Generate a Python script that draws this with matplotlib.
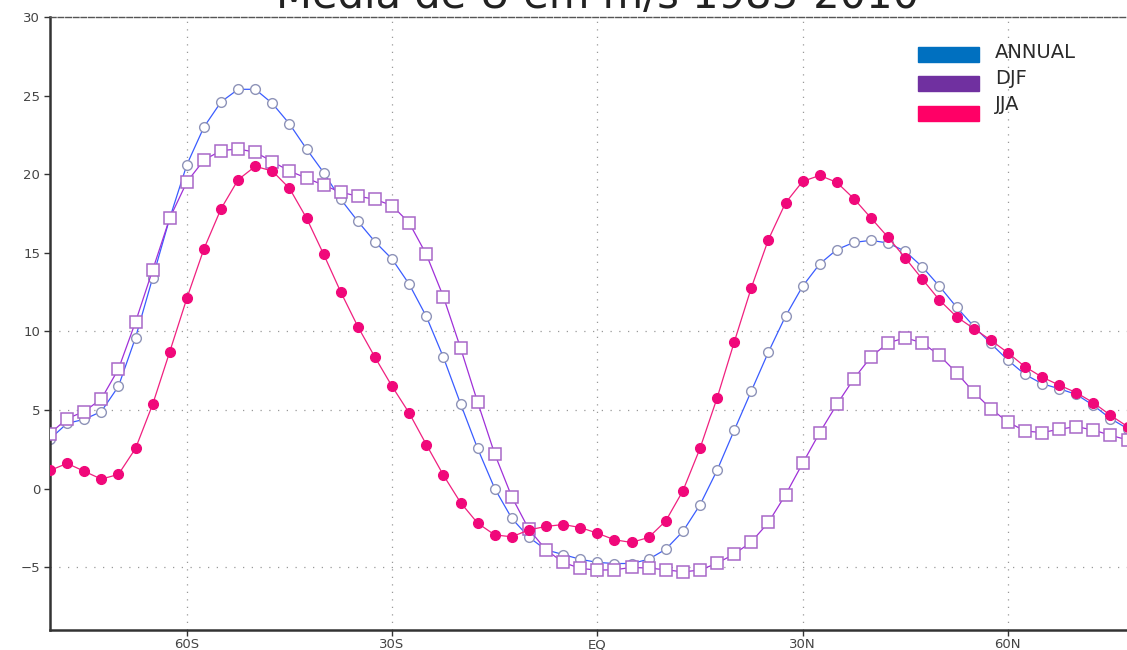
import numpy as np
import matplotlib
matplotlib.use('Agg')
import matplotlib.pyplot as plt
from matplotlib.patches import Rectangle

# latitude of each point, 80S .. 77.5N every 2.5 deg
lats = np.arange(-80, 78, 2.5)

annual = [3.15, 4.15, 4.4, 4.9, 6.5, 9.6, 13.4, 17.2, 20.6, 23.0,
          24.6, 25.4, 25.4, 24.5, 23.2, 21.6, 20.1, 18.4, 17.0, 15.7,
          14.6, 13.0, 10.95, 8.35, 5.4, 2.55, 0.0, -1.9, -3.1, -3.9,
          -4.2, -4.5, -4.7, -4.77, -4.77, -4.5, -3.86, -2.73, -1.04, 1.16,
          3.7, 6.2, 8.68, 10.96, 12.87, 14.29, 15.2, 15.66, 15.79, 15.62,
          15.09, 14.1, 12.87, 11.54, 10.33, 9.23, 8.17, 7.26, 6.67, 6.35,
          5.99, 5.29, 4.45, 3.81]

djf = [3.5, 4.45, 4.9, 5.7, 7.6, 10.6, 13.9, 17.2, 19.5, 20.9,
       21.5, 21.6, 21.4, 20.8, 20.2, 19.75, 19.3, 18.85, 18.6, 18.4,
       18.0, 16.9, 14.9, 12.2, 8.95, 5.5, 2.2, -0.53, -2.6, -3.9,
       -4.7, -5.08, -5.19, -5.17, -5.02, -5.06, -5.17, -5.3, -5.19, -4.75,
       -4.17, -3.4, -2.16, -0.4, 1.6, 3.56, 5.35, 6.99, 8.38, 9.27,
       9.59, 9.27, 8.47, 7.37, 6.14, 5.08, 4.23, 3.66, 3.56, 3.77,
       3.94, 3.72, 3.39, 3.09]

jja = [1.15, 1.6, 1.1, 0.6, 0.9, 2.55, 5.35, 8.7, 12.1, 15.25,
       17.8, 19.65, 20.5, 20.2, 19.1, 17.2, 14.9, 12.5, 10.3, 8.35,
       6.5, 4.8, 2.8, 0.85, -0.89, -2.2, -2.95, -3.07, -2.63, -2.41,
       -2.29, -2.48, -2.84, -3.26, -3.43, -3.11, -2.06, -0.15, 2.55, 5.76,
       9.31, 12.77, 15.84, 18.17, 19.54, 19.92, 19.48, 18.44, 17.21, 15.98,
       14.67, 13.32, 11.99, 10.93, 10.18, 9.44, 8.64, 7.75, 7.09, 6.58,
       6.1, 5.46, 4.66, 3.94]

xticks = [-60, -30, 0, 30, 60]
xlabels = ['60S', '30S', 'EQ', '30N', '60N']
yticks = [-5, 0, 5, 10, 15, 20, 25, 30]
ygrid = [-5, 5, 10]

legend_names = ['ANNUAL', 'DJF', 'JJA']
legend_colors = ['#0070c0', '#7030a0', '#ff0066']

W, H = 1127, 650
fig = plt.figure(figsize=(W / 100, H / 100), dpi=100)
# axes runs on past the right edge, the picture is cropped there
left, right, bottom, top = 50 / W, 1144.7 / W, 20 / H, 633 / H
ax = fig.add_axes([left, bottom, right - left, top - bottom])
ax.set_xlim(-80, 80)
ax.set_ylim(-9, 30)

for x in xticks:
    ax.axvline(x, color='#999999', linestyle=(0, (1, 5)), linewidth=0.9, zorder=0)
for y in ygrid:
    ax.axhline(y, color='#999999', linestyle=(0, (1, 6)), linewidth=0.9, zorder=0)

ax.plot(lats, annual, color='#3a5cff', linewidth=0.9, marker='o',
        markersize=7, markerfacecolor='white', markeredgecolor='#8e93b8',
        markeredgewidth=1.0, zorder=2)
ax.plot(lats, djf, color='#a030d8', linewidth=0.9, marker='s',
        markersize=8, markerfacecolor='white', markeredgecolor='#a868c8',
        markeredgewidth=1.1, zorder=3)
ax.plot(lats, jja, color='#f0207f', linewidth=0.9, marker='o',
        markersize=7, markerfacecolor='#f0087a', markeredgecolor='#f0087a',
        zorder=4)

ax.set_xticks(xticks)
ax.set_xticklabels(xlabels)
ax.set_yticks(yticks)
ax.tick_params(direction='out', length=4, width=1, colors='#333333',
               labelsize=9.5, labelcolor='#444444')
ax.tick_params(axis='y', pad=3)
ax.tick_params(axis='x', pad=2)

ax.spines['left'].set_linewidth(1.8)
ax.spines['left'].set_color('#333333')
ax.spines['bottom'].set_linewidth(1.8)
ax.spines['bottom'].set_color('#333333')
ax.spines['right'].set_visible(False)
ax.spines['top'].set_linestyle((0, (4, 1.5)))
ax.spines['top'].set_color('#555555')
ax.spines['top'].set_linewidth(1.0)

# title, its upper half falls outside the picture as in the original
fig.text(598 / W, 1 - 8 / H, 'Média de U em m/s 1983-2010', ha='center',
         va='baseline', fontsize=30, color='#222222')

# legend boxes and names
box_y = [47, 76, 106]
text_y = [52, 78, 105]
for name, col, by, ty in zip(legend_names, legend_colors, box_y, text_y):
    fig.patches.append(Rectangle((918 / W, 1 - (by + 15) / H), 61 / W, 15 / H,
                                 transform=fig.transFigure, color=col))
    fig.text(995 / W, 1 - ty / H, name, ha='left', va='center',
             fontsize=14, color='#2a2a2a')

fig.savefig('out.png', dpi=100)
